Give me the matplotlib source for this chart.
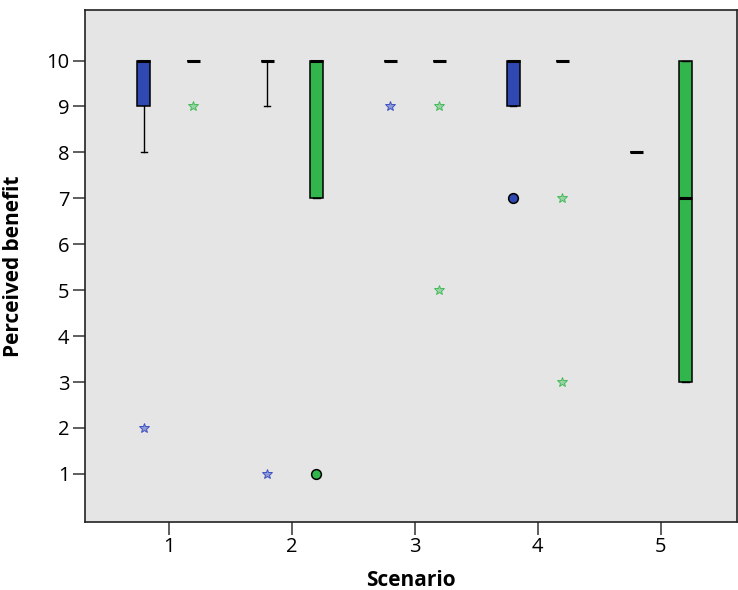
import matplotlib
matplotlib.use("Agg")
import matplotlib.pyplot as plt

scenarios = [1, 2, 3, 4, 5]
groups = ["blue", "green"]

# per scenario: (q1, median, q3, whisker low, whisker high)
blue_q1 = [9, 10, 10, 9, 8]
blue_med = [10, 10, 10, 10, 8]
blue_q3 = [10, 10, 10, 10, 8]
blue_wlo = [8, 9, 10, 9, 8]
blue_whi = [10, 10, 10, 10, 8]

green_q1 = [10, 7, 10, 10, 3]
green_med = [10, 10, 10, 10, 7]
green_q3 = [10, 10, 10, 10, 10]
green_wlo = [10, 7, 10, 10, 3]
green_whi = [10, 10, 10, 10, 10]

# outliers: circles (mild) and stars (extreme)
blue_circles = [[], [], [], [7], []]
blue_stars = [[2], [1], [9], [], []]
green_circles = [[], [1], [], [], []]
green_stars = [[9], [], [9, 5], [7, 3], []]

BLUE = "#3049b2"
GREEN = "#33b54d"
BLUE_STAR = "#3f52c4"
GREEN_STAR = "#45bb5a"

plt.rcParams["font.family"] = ["Open Sans", "DejaVu Sans"]

fig = plt.figure(figsize=(7.38, 5.9), dpi=100)
ax = fig.add_axes([0.115, 0.115, 0.884, 0.868])
ax.set_facecolor("#e5e5e5")

offset = 0.2
width = 0.105

def draw(q1, med, q3, wlo, whi, circles, stars, shift, color, star_color, star_fill):
    stats = []
    for i in range(len(scenarios)):
        stats.append(dict(q1=q1[i], med=med[i], q3=q3[i], whislo=wlo[i],
                          whishi=whi[i], fliers=[]))
    pos = [s + shift for s in scenarios]
    ax.bxp(stats, positions=pos, widths=width, patch_artist=True,
           showfliers=False,
           boxprops=dict(facecolor=color, edgecolor="black", linewidth=1.1),
           medianprops=dict(color="black", linewidth=2.2),
           whiskerprops=dict(color="black", linewidth=1.0),
           capprops=dict(color="black", linewidth=1.0),
           capwidths=width * 0.5)
    for p, vals in zip(pos, circles):
        if vals:
            ax.plot([p] * len(vals), vals, "o", color=color, markeredgecolor="black",
                    markersize=7, markeredgewidth=1.1, zorder=5)
    for p, vals in zip(pos, stars):
        if vals:
            ax.plot([p] * len(vals), vals, "*", markerfacecolor=star_fill,
                    markeredgecolor=star_color, markersize=7.5,
                    markeredgewidth=0.7, zorder=5)

draw(blue_q1, blue_med, blue_q3, blue_wlo, blue_whi, blue_circles, blue_stars,
     -offset, BLUE, BLUE_STAR, "#8f99d4")
draw(green_q1, green_med, green_q3, green_wlo, green_whi, green_circles, green_stars,
     offset, GREEN, GREEN_STAR, "#98d3a3")

ax.set_xlim(0.32, 5.62)
ax.set_ylim(-0.05, 11.1)
ax.set_xticks(scenarios)
ax.set_xticklabels([str(s) for s in scenarios])
ax.set_yticks(range(1, 11))
ax.tick_params(axis="both", labelsize=14.5, length=9, width=1.1,
               color="#333333", pad=2)
for sp in ax.spines.values():
    sp.set_linewidth(1.2)
    sp.set_color("#222222")

ax.set_xlabel("Scenario", fontsize=15, fontweight="bold", labelpad=9)
ax.set_ylabel("Perceived benefit", fontsize=15, fontweight="bold", labelpad=16)

fig.savefig("out.png", dpi=100)
